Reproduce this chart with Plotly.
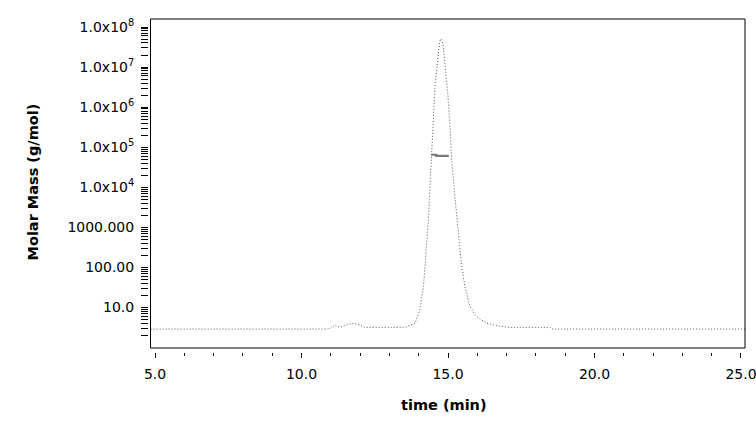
import plotly.graph_objects as go

# ---- data ----
time_min = [4.85, 10.86, 11.00, 11.14, 11.29, 11.50, 11.71, 12.00, 12.17, 13.53,
            13.59, 13.76, 13.87, 14.04, 14.16, 14.215, 14.273, 14.328, 14.386,
            14.444, 14.498, 14.556, 14.614, 14.683, 14.72, 14.761, 14.80, 14.839,
            14.922, 14.990, 15.068, 15.126, 15.205, 15.297, 15.375, 15.468, 15.580,
            15.751, 15.980, 16.321, 16.717, 17.116, 18.48, 18.55, 25.14]
molar_mass = [2.90, 2.90, 3.09, 3.65, 3.20, 3.63, 4.03, 3.65, 3.20, 3.20,
              3.31, 3.65, 4.03, 8.66, 33.1, 104.7, 331.0, 1549.0, 10470.0,
              71600.0, 489800.0, 3.31e6, 8.71e6, 3.31e7, 4.47e7, 5.07e7, 4.47e7, 3.31e7,
              8.71e6, 2.26e6, 3.31e5, 4.9e4, 10470.0, 1549.0, 490.0, 104.7, 33.1,
              10.5, 5.89, 4.03, 3.45, 3.20, 3.20, 2.90, 2.90]

bar_time = [14.42, 14.60, 14.60, 15.03]
bar_mass = [6.5e4, 6.5e4, 6.1e4, 6.1e4]

x_tick_vals = [5, 10, 15, 20, 25]
x_tick_text = ["5.0", "10.0", "15.0", "20.0", "25.0"]
x_minor_vals = [6, 7, 8, 9, 11, 12, 13, 14, 16, 17, 18, 19, 21, 22, 23, 24]

y_tick_vals = [10, 100, 1000, 1e4, 1e5, 1e6, 1e7, 1e8]
y_tick_text = ["10.0", "100.00", "1000.000",
               "1.0x10<sup>4</sup>", "1.0x10<sup>5</sup>", "1.0x10<sup>6</sup>",
               "1.0x10<sup>7</sup>", "1.0x10<sup>8</sup>"]
y_minor_vals = [m * 10 ** e for e in range(0, 8) for m in range(2, 10)]

x_title = "time (min)"
y_title = "Molar Mass (g/mol)"

# ---- layout geometry ----
W, H = 756, 422
ML, MR, MT, MB = 148, 11, 19, 70
PW, PH = W - ML - MR, H - MT - MB

fig = go.Figure()
fig.add_trace(go.Scatter(x=time_min, y=molar_mass, mode="lines",
                         line=dict(color="#555555", width=1, dash="1px,2px"),
                         showlegend=False, hoverinfo="skip"))
fig.add_trace(go.Scatter(x=bar_time, y=bar_mass, mode="lines",
                         line=dict(color="#7a7a7a", width=2.2),
                         showlegend=False, hoverinfo="skip"))

tick_font = dict(family="DejaVu Sans", size=14, color="black")

fig.update_layout(
    width=W, height=H,
    margin=dict(l=ML, r=MR, t=MT, b=MB, autoexpand=False),
    paper_bgcolor="white", plot_bgcolor="white",
    xaxis=dict(domain=[2.5 / PW, 1], anchor="free", position=0,
               range=[4.846, 25.137], showgrid=False, zeroline=False, showline=False,
               tickmode="array", tickvals=x_tick_vals, ticktext=x_tick_text,
               ticks="outside", ticklen=5, tickwidth=1, tickcolor="black",
               tickfont=tick_font, ticklabelstandoff=4, ticklabeloverflow="allow",
               minor=dict(tickmode="array", tickvals=x_minor_vals, ticks="outside",
                          ticklen=2.5, tickwidth=1, tickcolor="black", showgrid=False)),
    yaxis=dict(type="log", domain=[4 / PH, 1], anchor="free", position=0,
               range=[-0.01, 8.2], showgrid=False, zeroline=False, showline=False,
               tickmode="array", tickvals=y_tick_vals, ticktext=y_tick_text,
               ticks="outside", ticklen=7, tickwidth=1, tickcolor="black",
               tickfont=tick_font, ticklabelstandoff=4, ticklabeloverflow="allow",
               minor=dict(tickmode="array", tickvals=y_minor_vals, ticks="outside",
                          ticklen=7, tickwidth=1, tickcolor="black", showgrid=False)),
    shapes=[dict(type="rect", xref="x domain", yref="y domain", x0=0, x1=1, y0=0, y1=1,
                 line=dict(color="black", width=1), fillcolor="rgba(0,0,0,0)")],
    annotations=[
        dict(text=x_title, xref="paper", yref="paper",
             x=(444 - ML) / PW, y=(H - MB - 405) / PH, xanchor="center", yanchor="middle",
             showarrow=False, font=dict(family="DejaVu Sans", size=14.5, color="black", weight="bold")),
        dict(text=y_title, xref="paper", yref="paper", textangle=-90,
             x=(32 - ML) / PW, y=(H - MB - 182.5) / PH, xanchor="center", yanchor="middle",
             showarrow=False, font=dict(family="DejaVu Sans", size=14.5, color="black", weight="bold")),
    ],
)

fig.write_html("out.html",
               config={"displayModeBar": False, "staticPlot": True},
               post_script="document.body.style.margin='0';document.body.style.padding='0';"
                           "document.body.style.overflow='hidden';")
